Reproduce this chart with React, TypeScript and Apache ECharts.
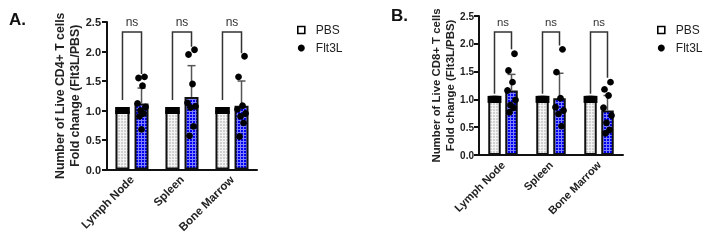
import React, { useEffect, useRef } from 'react';
import * as echarts from 'echarts';

// ---------- data ----------
const categories = ['Lymph Node', 'Spleen', 'Bone Marrow'];
const seriesNames = ['PBS', 'Flt3L'];

// Panel A: CD4+
const cd4PbsMean = [1.0, 1.0, 1.0];
const cd4PbsPoints = [
  [1.0, 1.0, 1.0, 1.0, 1.0, 1.0, 1.0, 1.0],
  [1.0, 1.0, 1.0, 1.0, 1.0, 1.0, 1.0, 1.0],
  [1.0, 1.0, 1.0, 1.0, 1.0, 1.0, 1.0, 1.0],
];
const cd4Flt3lMean = [1.12, 1.23, 1.08];
const cd4Flt3lSdTop = [1.38, 1.76, 1.5];
const cd4Flt3lLymphNode = [1.57, 1.55, 1.42, 1.12, 1.06, 1.0, 0.95, 0.9, 0.68];
const cd4Flt3lSpleen = [2.03, 1.95, 1.45, 1.13, 1.07, 1.05, 0.73, 0.57];
const cd4Flt3lBoneMarrow = [1.92, 1.57, 1.08, 1.02, 0.95, 0.9, 0.79, 0.56];
const cd4BracketTop = [2.33, 2.33, 2.33];
const cd4BracketLeftEnd = [1.18, 1.18, 1.18];
const cd4BracketRightEnd = [1.62, 2.08, 1.97];
const cd4Significance = ['ns', 'ns', 'ns'];

// Panel B: CD8+
const cd8PbsMean = [1.0, 1.0, 1.0];
const cd8PbsPoints = [
  [1.0, 1.0, 1.0, 1.0, 1.0, 1.0, 1.0, 1.0],
  [1.0, 1.0, 1.0, 1.0, 1.0, 1.0, 1.0, 1.0],
  [1.0, 1.0, 1.0, 1.0, 1.0, 1.0, 1.0, 1.0],
];
const cd8Flt3lMean = [1.16, 1.02, 0.8];
const cd8Flt3lSdTop = [1.45, 1.47, 1.07];
const cd8Flt3lLymphNode = [1.82, 1.52, 1.31, 1.16, 0.99, 0.9, 0.85, 0.77];
const cd8Flt3lSpleen = [1.9, 1.49, 1.02, 0.86, 0.8, 0.74, 0.52];
const cd8Flt3lBoneMarrow = [1.31, 1.18, 1.07, 0.85, 0.71, 0.58, 0.45, 0.39];
const cd8BracketTop = [2.21, 2.21, 2.21];
const cd8BracketLeftEnd = [1.1, 1.1, 1.1];
const cd8BracketRightEnd = [1.9, 1.97, 1.39];
const cd8Significance = ['ns', 'ns', 'ns'];

const yMin = 0;
const yMax = 2.5;
const yInterval = 0.5;

const panelLabels = ['A.', 'B.'];
const yTitlesA = ['Number of Live CD4+ T cells', 'Fold change (Flt3L/PBS)'];
const yTitlesB = ['Number of Live CD8+ T cells', 'Fold change (Flt3L/PBS)'];

// ---------- styling / layout ----------
const FONT = '"Liberation Sans", Arial, Helvetica, sans-serif';
const jitterFlt = [3, -3, 1, -4, 4, -1, 2, -2, 0];
const jitterPbs = [-3.5, -2.5, -1.5, -0.5, 0.5, 1.5, 2.5, 3.5];

function makePattern(base: string, line: string, size: number) {
  const c = document.createElement('canvas');
  c.width = size;
  c.height = size;
  const ctx = c.getContext('2d')!;
  ctx.fillStyle = base;
  ctx.fillRect(0, 0, size, size);
  ctx.fillStyle = line;
  ctx.fillRect(0, 0, size, 1);
  ctx.fillRect(0, 0, 1, size);
  return { image: c, repeat: 'repeat', imageWidth: size, imageHeight: size } as any;
}

interface PanelCfg {
  idx: number;
  barWidth: number;
  gapRatio: number;
  pbsMean: number[];
  pbsPoints: number[][];
  fltMean: number[];
  fltSdTop: number[];
  fltPoints: number[][];
  brTop: number[];
  brLeft: number[];
  brRight: number[];
  sig: string[];
  fontScale: number;
}

function panelSeries(p: PanelCfg, grey: any, blue: any) {
  const off = (p.barWidth * (1 + p.gapRatio)) / 2;
  const axis = { xAxisIndex: p.idx, yAxisIndex: p.idx };
  const fltPts: number[][] = [];
  p.fltPoints.forEach((arr, ci) => arr.forEach((v, k) => fltPts.push([ci, v, k])));
  const pbsPts: number[][] = [];
  p.pbsPoints.forEach((arr, ci) => arr.forEach((v, k) => pbsPts.push([ci, v, k])));
  return [
    {
      type: 'bar',
      name: 'PBS',
      ...axis,
      data: p.pbsMean,
      barWidth: p.barWidth,
      barGap: Math.round(p.gapRatio * 100) + '%',
      itemStyle: { color: grey, borderColor: '#111', borderWidth: 2 },
      z: 2,
    },
    {
      type: 'bar',
      name: 'Flt3L',
      ...axis,
      data: p.fltMean,
      barWidth: p.barWidth,
      barGap: Math.round(p.gapRatio * 100) + '%',
      itemStyle: { color: blue, borderColor: '#111', borderWidth: 2 },
      z: 2,
    },
    {
      type: 'custom',
      name: 'Flt3L',
      ...axis,
      z: 3,
      data: p.fltMean.map((m, i) => [i, m, p.fltSdTop[i]]),
      renderItem: (params: any, api: any) => {
        const a = api.coord([api.value(0), api.value(1)]);
        const b = api.coord([api.value(0), api.value(2)]);
        const x = a[0] + off;
        return {
          type: 'group',
          children: [
            { type: 'line', shape: { x1: x, y1: a[1], x2: x, y2: b[1] }, style: { stroke: '#555', lineWidth: 1.5 } },
            { type: 'line', shape: { x1: x - 4, y1: b[1], x2: x + 4, y2: b[1] }, style: { stroke: '#555', lineWidth: 1.5 } },
          ],
        };
      },
    },
    {
      type: 'custom',
      name: 'PBS',
      ...axis,
      z: 4,
      data: pbsPts,
      renderItem: (params: any, api: any) => {
        const c = api.coord([api.value(0), api.value(1)]);
        const j = jitterPbs[api.value(2) % jitterPbs.length];
        const s = p.barWidth * 0.55;
        return {
          type: 'rect',
          shape: { x: c[0] - off + j - s / 2, y: c[1] - 3.5, width: s, height: 7 },
          style: { fill: '#000' },
        };
      },
    },
    {
      type: 'custom',
      name: 'Flt3L',
      ...axis,
      z: 5,
      data: fltPts,
      renderItem: (params: any, api: any) => {
        const c = api.coord([api.value(0), api.value(1)]);
        const j = jitterFlt[api.value(2) % jitterFlt.length];
        return { type: 'circle', shape: { cx: c[0] + off + j, cy: c[1], r: 3.4 }, style: { fill: '#000' } };
      },
    },
    {
      type: 'custom',
      name: 'significance',
      ...axis,
      z: 6,
      data: p.brTop.map((t, i) => [i, t, p.brLeft[i], p.brRight[i]]),
      renderItem: (params: any, api: any) => {
        const t = api.coord([api.value(0), api.value(1)]);
        const l = api.coord([api.value(0), api.value(2)]);
        const r = api.coord([api.value(0), api.value(3)]);
        const xl = t[0] - off;
        const xr = t[0] + off;
        return {
          type: 'group',
          children: [
            {
              type: 'polyline',
              shape: { points: [[xl, l[1]], [xl, t[1]], [xr, t[1]], [xr, r[1]]] },
              style: { stroke: '#333', lineWidth: 1.5, fill: 'none' },
            },
            {
              type: 'text',
              style: {
                text: p.sig[params.dataIndex],
                x: (xl + xr) / 2,
                y: t[1] - 10,
                align: 'center',
                verticalAlign: 'middle',
                fontSize: 12 * p.fontScale,
                fontFamily: FONT,
                fill: '#333',
              },
            },
          ],
        };
      },
    },
  ];
}

export default function App() {
  const ref = useRef<HTMLDivElement>(null);
  useEffect(() => {
    if (!ref.current) return;
    const chart = echarts.init(ref.current, undefined, { renderer: 'svg' });
    const grey = makePattern('#d0d0d0', '#f4f4f4', 3);
    const blue = makePattern('#0000f0', '#8080ff', 3);

    const pA: PanelCfg = {
      idx: 0, barWidth: 14, gapRatio: 0.36,
      pbsMean: cd4PbsMean, pbsPoints: cd4PbsPoints,
      fltMean: cd4Flt3lMean, fltSdTop: cd4Flt3lSdTop,
      fltPoints: [cd4Flt3lLymphNode, cd4Flt3lSpleen, cd4Flt3lBoneMarrow],
      brTop: cd4BracketTop, brLeft: cd4BracketLeftEnd, brRight: cd4BracketRightEnd, sig: cd4Significance,
      fontScale: 1,
    };
    const pB: PanelCfg = {
      idx: 1, barWidth: 12.5, gapRatio: 0.36,
      pbsMean: cd8PbsMean, pbsPoints: cd8PbsPoints,
      fltMean: cd8Flt3lMean, fltSdTop: cd8Flt3lSdTop,
      fltPoints: [cd8Flt3lLymphNode, cd8Flt3lSpleen, cd8Flt3lBoneMarrow],
      brTop: cd8BracketTop, brLeft: cd8BracketLeftEnd, brRight: cd8BracketRightEnd, sig: cd8Significance,
      fontScale: 0.95,
    };

    const xAxisCfg = (gi: number, fs: number) => ({
      type: 'category',
      gridIndex: gi,
      data: categories,
      axisLine: { lineStyle: { color: '#111', width: 2 } },
      axisTick: { alignWithLabel: true, length: 6, lineStyle: { color: '#111', width: 2 } },
      axisLabel: { rotate: 45, margin: 8, fontSize: fs, fontWeight: 'bold', color: '#222', fontFamily: FONT },
    });
    const yAxisCfg = (gi: number, fs: number, margin: number, title: string[], gap: number, titleFs: number) => ({
      type: 'value',
      gridIndex: gi,
      min: yMin,
      max: yMax,
      interval: yInterval,
      name: title.join('\n'),
      nameLocation: 'middle',
      nameRotate: 90,
      nameGap: gap,
      nameMoveOverlap: false,
      nameTextStyle: { fontSize: titleFs, fontWeight: 'bold', color: '#222', fontFamily: FONT, lineHeight: titleFs * 1.2, align: 'center' },
      axisLine: { show: true, lineStyle: { color: '#111', width: 2 } },
      axisTick: { show: true, length: 5, lineStyle: { color: '#111', width: 2 } },
      splitLine: { show: false },
      axisLabel: { margin, fontSize: fs, fontWeight: 'bold', color: '#222', fontFamily: FONT, formatter: (v: number) => v.toFixed(1) },
    });

    const legendCfg = (left: number) => ({
      orient: 'vertical',
      left,
      top: 19,
      itemWidth: 7,
      itemHeight: 7,
      itemGap: 6,
      selectedMode: false,
      textStyle: { fontSize: 12, color: '#222', fontFamily: FONT, padding: [0, 0, 0, 6] },
      data: [
        { name: seriesNames[0], icon: 'rect', itemStyle: { color: '#fff', borderColor: '#000', borderWidth: 1.6 } },
        { name: seriesNames[1], icon: 'circle', itemStyle: { color: '#000', borderWidth: 0 } },
      ],
    });

    chart.setOption({
      animation: false,
      textStyle: { fontFamily: FONT },
      title: [
        { text: panelLabels[0], left: 4, top: 6, textStyle: { fontSize: 17, fontWeight: 'bold', color: '#111', fontFamily: FONT } },
        { text: panelLabels[1], left: 386, top: 2, textStyle: { fontSize: 17, fontWeight: 'bold', color: '#111', fontFamily: FONT } },
      ],
      legend: [legendCfg(292), legendCfg(652)],
      grid: [
        { left: 107, top: 22, width: 150, height: 147.5 },
        { left: 479, top: 16, width: 144, height: 139 },
      ],
      xAxis: [xAxisCfg(0, 11.5), xAxisCfg(1, 11)],
      yAxis: [
        yAxisCfg(0, 11, 6, yTitlesA, 25, 12.3),
        yAxisCfg(1, 10, 5, yTitlesB, 22, 11.4),
      ],
      series: [...panelSeries(pA, grey, blue), ...panelSeries(pB, grey, blue)],
    });
    return () => chart.dispose();
  }, []);
  return <div ref={ref} style={{ position: 'fixed', left: 0, top: 0, width: 712, height: 241 }} />;
}
